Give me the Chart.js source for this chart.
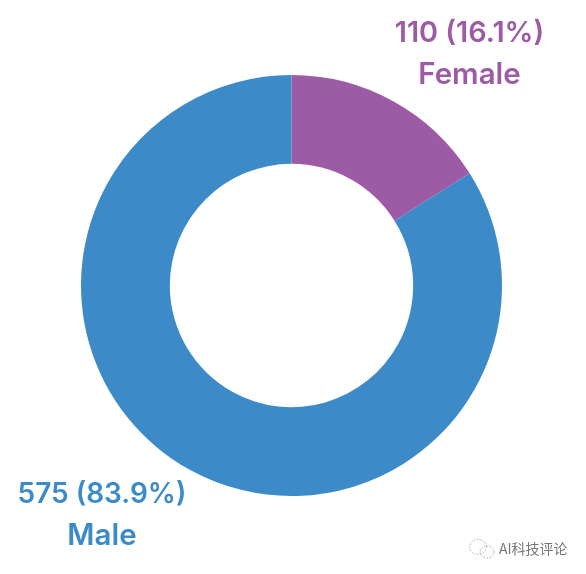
<!DOCTYPE html>
<html>
<head>
<meta charset="utf-8">
<script src="https://cdn.jsdelivr.net/npm/chart.js@4/dist/chart.umd.min.js"></script>
<style>
    html, body { margin: 0; padding: 0; background: #fff; }
    #wrap { position: relative; width: 586px; height: 574px; overflow: hidden; }
    #mark { position: absolute; left: 499px; top: 539px; font: 14px "Noto Sans CJK SC", sans-serif; color: #777; line-height: 18px; }
    #icon { position: absolute; left: 468px; top: 538px; }
</style>
</head>
<body>
<div id="wrap">
    <canvas id="genderChart" width="586" height="574"></canvas>
    <svg id="icon" width="28" height="22" fill="none" stroke="#aaa" stroke-width="1" stroke-dasharray="1.5 1.5">
        <ellipse cx="10" cy="9" rx="8.5" ry="7.5"></ellipse>
        <ellipse cx="19" cy="14" rx="7" ry="6"></ellipse>
    </svg>
    <div id="mark">AI科技评论</div>
</div>
<script>
// -------------------------------
// DATA
// -------------------------------
const categories = ["Female", "Male"];
const counts = [110, 575];
const shares = ["16.1%", "83.9%"];
const colors = ["#9e5ba5", "#3c8bc8"];

// where each label sits: centre x, first line baseline, second line baseline, first line px
const labelSpots = [[469.5, 42, 84, 28.8], [102, 503, 545, 28]];

// -------------------------------
// LABELS
// -------------------------------
const outerLabels = {
    id: "outerLabels",
    afterDraw(chart) {
        const ctx = chart.ctx;
        ctx.save();
        ctx.textAlign = "center";
        categories.forEach((name, i) => {
            const [x, y1, y2, size] = labelSpots[i];
            ctx.fillStyle = colors[i];
            ctx.font = `600 ${size}px Inter, sans-serif`;
            ctx.fillText(`${counts[i]} (${shares[i]})`, x, y1);
            ctx.font = '600 29.5px Inter, sans-serif';
            ctx.fillText(name, x, y2);
        });
        ctx.restore();
    }
};

// -------------------------------
// CHART
// -------------------------------
new Chart(document.getElementById("genderChart"), {
    type: "doughnut",
    data: {
        labels: categories,
        datasets: [{
            data: counts,
            backgroundColor: colors,
            borderWidth: 0
        }]
    },
    options: {
        responsive: false,
        animation: false,
        cutout: "57.8%",
        layout: { padding: { left: 81, right: 84, top: 75, bottom: 78 } },
        plugins: {
            legend: { display: false },
            tooltip: { enabled: false }
        }
    },
    plugins: [outerLabels]
});
</script>
</body>
</html>
